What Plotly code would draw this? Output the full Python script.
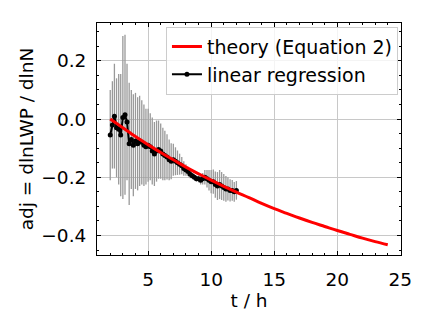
import plotly.graph_objects as go

# theory curve (Equation 2) at whole hours
t_theory = [2, 3, 4, 5, 6, 7, 8, 9, 10, 11, 12, 13, 14, 15, 16, 17, 18, 19, 20, 21, 22, 23, 24]
adj_theory = [0.0, -0.030, -0.060, -0.088, -0.115, -0.140, -0.165, -0.188, -0.210, -0.231,
              -0.251, -0.270, -0.290, -0.308, -0.324, -0.340, -0.355, -0.369, -0.383,
              -0.396, -0.409, -0.421, -0.432]

# linear regression estimates, every 10 minutes from 2 h to 12 h
t_reg = [2.00, 2.17, 2.33, 2.50, 2.67, 2.83, 3.00, 3.17, 3.33, 3.50,
         3.67, 3.83, 4.00, 4.17, 4.33, 4.50, 4.67, 4.83, 5.00, 5.17,
         5.33, 5.50, 5.67, 5.83, 6.00, 6.17, 6.33, 6.50, 6.67, 6.83,
         7.00, 7.17, 7.33, 7.50, 7.67, 7.83, 8.00, 8.17, 8.33, 8.50,
         8.67, 8.83, 9.00, 9.17, 9.33, 9.50, 9.67, 9.83, 10.00, 10.17,
         10.33, 10.50, 10.67, 10.83, 11.00, 11.17, 11.33, 11.50, 11.67, 11.83,
         12.00]
adj_reg = [-0.055, -0.020, 0.010, -0.030, -0.035, -0.055, 0.005, 0.015, -0.010, -0.085,
           -0.070, -0.090, -0.075, -0.085, -0.075, -0.080, -0.090, -0.095, -0.090, -0.095,
           -0.110, -0.120, -0.110, -0.105, -0.110, -0.120, -0.125, -0.130, -0.140, -0.145,
           -0.140, -0.145, -0.150, -0.155, -0.160, -0.170, -0.175, -0.180, -0.190, -0.195,
           -0.200, -0.205, -0.205, -0.210, -0.205, -0.200, -0.205, -0.210, -0.215, -0.215,
           -0.225, -0.230, -0.225, -0.230, -0.235, -0.240, -0.240, -0.245, -0.245, -0.250,
           -0.245]
adj_err = [0.155, 0.150, 0.180, 0.170, 0.190, 0.210, 0.280, 0.275, 0.200, 0.210,
           0.170, 0.175, 0.165, 0.160, 0.155, 0.145, 0.140, 0.130, 0.125, 0.115,
           0.115, 0.110, 0.105, 0.100, 0.095, 0.090, 0.085, 0.078, 0.070, 0.062,
           0.055, 0.048, 0.042, 0.036, 0.030, 0.025, 0.020, 0.016, 0.013, 0.010,
           0.010, 0.010, 0.012, 0.015, 0.020, 0.025, 0.030, 0.035, 0.040, 0.042,
           0.045, 0.048, 0.050, 0.048, 0.046, 0.044, 0.040, 0.038, 0.036, 0.034,
           0.032]

fig = go.Figure()

fig.add_trace(go.Scatter(
    x=t_reg, y=adj_reg,
    mode="lines+markers",
    name="linear regression",
    line=dict(color="black", width=2),
    marker=dict(color="black", size=5),
    error_y=dict(type="data", array=adj_err, color="#999999", thickness=1.3, width=0),
))

fig.add_trace(go.Scatter(
    x=t_theory, y=adj_theory,
    mode="lines",
    name="theory (Equation 2)",
    line=dict(color="red", width=3, shape="spline"),
))

axis_style = dict(
    showline=True, linecolor="black", linewidth=1, mirror="allticks",
    ticks="inside", ticklen=4, tickcolor="black",
    showgrid=True, gridcolor="#c8c8c8", gridwidth=1,
    zeroline=False,
    tickfont=dict(size=18.5, color="black"),
)

fig.update_xaxes(
    **axis_style, range=[0.95, 25.05], tickvals=[5, 10, 15, 20, 25],
    ticklabelstandoff=8,
    minor=dict(ticks="inside", ticklen=2, dtick=1, tick0=0, tickcolor="black", showgrid=False),
    title=dict(text="t / h", font=dict(size=18.5, color="black"), standoff=4),
)
fig.update_yaxes(
    **axis_style, range=[-0.467, 0.33], tickvals=[-0.4, -0.2, 0.0, 0.2], tickformat=".1f",
    ticklabelstandoff=6,
    minor=dict(ticks="inside", ticklen=2, dtick=0.05, tick0=0, tickcolor="black", showgrid=False),
    title=dict(text="adj = dlnLWP / dlnN", font=dict(size=18.5, color="black"), standoff=2),
)

# page body has an 8px margin, so the figure is drawn 8px smaller
fig.update_layout(
    width=424, height=316,
    margin=dict(l=89, r=31, t=15, b=69),
    paper_bgcolor="white", plot_bgcolor="white",
    font=dict(family="DejaVu Sans", size=18.5, color="black"),
    legend=dict(
        x=0.99, y=0.984, xanchor="right", yanchor="top",
        traceorder="reversed",
        bgcolor="rgba(255,255,255,0.8)", bordercolor="#cccccc", borderwidth=1,
        font=dict(size=19), itemwidth=30, tracegroupgap=0,
    ),
    showlegend=True,
)

fig.write_html("out.html")
